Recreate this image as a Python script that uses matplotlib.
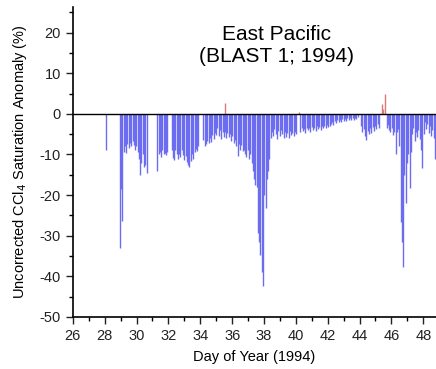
import numpy as np
import matplotlib.pyplot as plt
from matplotlib.ticker import MultipleLocator

plt.rcParams.update({"font.family": ["Liberation Sans", "DejaVu Sans"],
                     "axes.unicode_minus": False})

# sampling interval of the anomaly record (day)
step = 0.08

# negative anomalies, one block per run of samples: (first day, values %)
single_day = [28.07]
single_val = [-8.9]
c1_start = 28.95
c1_vals = [-33, -18.5, -26.3, -9.5, -8, -9.6, -7.5, -8.5, -7.2, -8, -6.8,
           -7.6, -9, -8, -9.5, -11, -15, -12, -10, -13, -12.5, -14.5]
c2_start = 31.3
c2_vals = [-14, -10, -9.5, -10.5, -9, -10, -9.6, -10.2, -9.4]
c3_start = 32.2
c3_vals = [-9, -10.8, -11.3, -9, -10, -11, -9.8, -10.5, -9, -10.2, -11.3,
           -10.4, -11.8, -12.6, -13, -11.5, -10, -11, -9.5, -8.6, -9.2, -8]
c4_start = 34.2
c4_vals = [-6.5, -8, -7.5, -6.8, -7.2, -6, -7, -5.2, -6.3, -4.8, -5.2,
           -3.6, -5.4, -4, -6.2, -4.5, -5.8, -4.4, -6]
c5_start = 35.7
c5_vals = [-4.6, -5.8, -5, -6.6, -5.4, -7.2, -6.4, -7.9, -10.3, -7.3, -8.8,
           -7.7, -9.2, -8.8, -9.8, -10.5, -9, -11, -10, -12, -14]
c6_start = 37.38
c6_vals = [-16, -17.5, -18, -29.4, -31.5, -34.7, -39, -42.4, -20, -23.2,
           -16, -14, -11]
c7_start = 38.42
c7_vals = [-6, -4.5, -5.5, -3.8, -5, -6.2, -4.2, -5.5, -4]
c8_start = 39.15
c8_vals = [-5, -6, -4.5, -5.6, -4.8, -5.9, -4.2, -5.2, -4.6, -5.5, -4.4, -5]
c9_start = 40.28
c9_vals = [-4.5, -3.5, -4.2, -3.8, -4.7, -3.4, -4, -3.6, -4.4, -3.2, -3.9,
           -3.5, -4.1, -3, -3.7, -3.3, -3.9, -2.9, -3.5, -3.1, -3.6, -2.8,
           -3.3, -2.9]
c10_start = 42.2
c10_vals = [-2.5, -2, -2.7, -1.8, -2.3, -1.6, -2.1, -1.5, -2, -1.3, -1.8,
            -1.2, -1.7, -1, -1.5, -1.1, -1.6, -0.9, -1.4, -1, -1.3, -0.8]
c11_start = 44.1
c11_vals = [-3, -4.5, -3.8, -5.5, -6.4, -4.2, -5, -3.6, -4.8, -3.2, -4.2,
            -3, -3.8, -2.6, -3.4]
c12_start = 45.7
c12_vals = [-3.5, -2.8, -4, -4.5, -3.5, -5.2, -4.4, -10, -4.5, -3.8]
c13_start = 46.5
c13_vals = [-8, -26.6, -31.5, -37.7, -15, -22, -12, -10, -18.3, -9.5]
c14_start = 47.3
c14_vals = [-5, -3.5, -6.8, -4.5, -5.8, -4, -6.2, -9, -13.3, -5, -2, -3.8,
            -2.5, -4.8, -3, -5.5, -4, -6, -11]

# positive anomalies
pos_day = [35.55, 40.22, 45.43, 45.5, 45.57]
pos_val = [2.7, 0.4, 2.4, 1.2, 4.9]

blocks = [(c1_start, c1_vals), (c2_start, c2_vals), (c3_start, c3_vals),
          (c4_start, c4_vals), (c5_start, c5_vals), (c6_start, c6_vals),
          (c7_start, c7_vals), (c8_start, c8_vals), (c9_start, c9_vals),
          (c10_start, c10_vals), (c11_start, c11_vals), (c12_start, c12_vals),
          (c13_start, c13_vals), (c14_start, c14_vals)]

neg_day = list(single_day)
neg_val = list(single_val)
for start, vals in blocks:
    neg_day += [start + step * i for i in range(len(vals))]
    neg_val += vals


def main():
    fig = plt.figure(figsize=(4.36, 3.69), dpi=100)
    ax = fig.add_axes([0.167, 0.141, 0.833, 0.84])

    ax.vlines(neg_day, 0, neg_val, color='#6c6cf0', linewidth=1.0)
    ax.vlines(pos_day, 0, pos_val, color='#e07878', linewidth=1.0)
    ax.axhline(0, color='black', linewidth=1.0)

    ax.set_xlim(26, 48.8)
    ax.set_ylim(-50, 26.3)
    ax.xaxis.set_major_locator(MultipleLocator(2))
    ax.xaxis.set_minor_locator(MultipleLocator(1))
    ax.yaxis.set_major_locator(MultipleLocator(10))
    ax.yaxis.set_minor_locator(MultipleLocator(5))
    ax.tick_params(which='major', direction='out', length=5, width=1,
                   labelsize=10.5, colors='#222222')
    ax.tick_params(which='minor', direction='out', length=3, width=1)
    for side in ['top', 'right']:
        ax.spines[side].set_visible(False)
    for side in ['left', 'bottom']:
        ax.spines[side].set_linewidth(1.2)

    ax.text(38.8, 16.8, "East Pacific\n(BLAST 1; 1994)", ha='center',
            va='center', fontsize=15, linespacing=1.2)

    ax.set_xlabel('Day of Year (1994)', fontsize=10.5, labelpad=5)
    ax.set_ylabel('Uncorrected CCl$_4$ Saturation Anomaly (%)', fontsize=10.5,
                  labelpad=8)

    fig.savefig("out.png", dpi=100)


if __name__ == "__main__":
    main()
